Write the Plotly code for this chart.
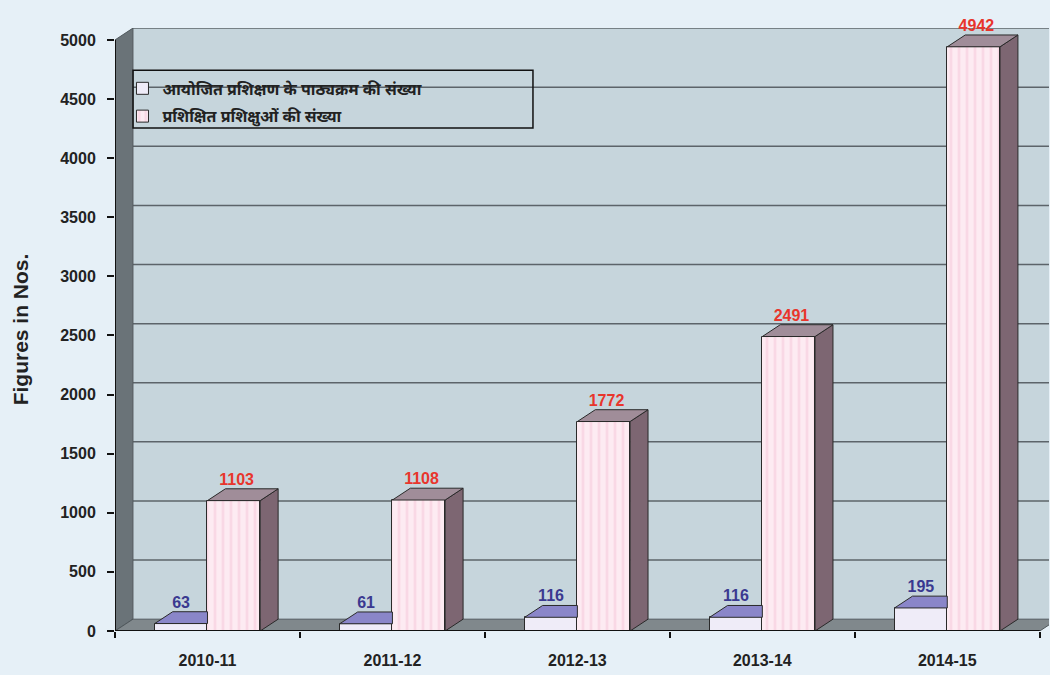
import plotly.graph_objects as go

years = ["2010-11", "2011-12", "2012-13", "2013-14", "2014-15"]
courses = [63, 61, 116, 116, 195]
trainees = [1103, 1108, 1772, 2491, 4942]
legend_names = ["आयोजित प्रशिक्षण के पाठ्यक्रम की संख्या", "प्रशिक्षित प्रशिक्षुओं की संख्या"]
yticks = list(range(0, 5001, 500))
y_title = "Figures in Nos."

# 3D look parameters (depth offset in data units)
DX = 0.097
DY = 100
BW = 0.285
YMAX = 5000
XMIN, XMAX = -0.5, len(years) - 0.5

FONT = "Arial, Liberation Sans, sans-serif"
WALL = "#C6D5DC"
LEFTWALL = "#6A7378"
FLOOR = "#80888C"
GRID = "#5C646A"
PAPER = "#E6F0F7"
OUT = "#2A2A2A"

xs = list(range(len(years)))

fig = go.Figure()

# front faces
fig.add_bar(x=xs, y=courses, offset=-BW, width=BW, name=legend_names[0],
            legendgroup="a",
            marker=dict(color="#EFECF8", line=dict(color=OUT, width=1)),
            hoverinfo="skip")
fig.add_bar(x=xs, y=trainees, offset=0, width=BW, name=legend_names[1],
            legendgroup="b",
            marker=dict(color="#FDE8EF", line=dict(color=OUT, width=1),
                        pattern=dict(shape="|", fgcolor="#F6C6D7", bgcolor="#FDEBF2",
                                     size=8, solidity=0.35)),
            hoverinfo="skip")


def poly_trace(pts_list, color):
    px, py = [], []
    for pts in pts_list:
        for (a, b) in pts:
            px.append(a)
            py.append(b)
        px.append(pts[0][0])
        py.append(pts[0][1])
        px.append(None)
        py.append(None)
    return go.Scatter(x=px, y=py, mode="lines", fill="toself", fillcolor=color,
                      line=dict(color=OUT, width=1), showlegend=False, hoverinfo="skip")


# blue top faces (clipped where hidden behind pink bar)
blue_tops = [[(i - BW, v), (i, v), (i, v + DY), (i - BW + DX, v + DY)]
             for i, v in zip(xs, courses)]
pink_tops = [[(i, v), (i + BW, v), (i + BW + DX, v + DY), (i + DX, v + DY)]
             for i, v in zip(xs, trainees)]
pink_sides = [[(i + BW, 0), (i + BW, v), (i + BW + DX, v + DY), (i + BW + DX, DY)]
              for i, v in zip(xs, trainees)]
fig.add_trace(poly_trace(blue_tops, "#8A86C9"))
fig.add_trace(poly_trace(pink_sides, "#7D6672"))
fig.add_trace(poly_trace(pink_tops, "#A08D99"))

# value labels
fig.add_trace(go.Scatter(x=[i - BW / 2 for i in xs], y=[v + DY for v in courses],
                         mode="text", text=[str(v) for v in courses], textposition="top center",
                         textfont=dict(family=FONT, size=16, color="#3A3990", weight="bold"),
                         cliponaxis=False, showlegend=False, hoverinfo="skip"))
fig.add_trace(go.Scatter(x=[i + BW / 2 + 0.015 for i in xs], y=[v + DY for v in trainees],
                         mode="text", text=[str(v) for v in trainees], textposition="top center",
                         textfont=dict(family=FONT, size=16, color="#E8352C", weight="bold"),
                         cliponaxis=False, showlegend=False, hoverinfo="skip"))

shapes = []
# back wall
shapes.append(dict(type="rect", xref="x", yref="y", x0=XMIN + DX, x1=XMAX + 0.2, y0=DY, y1=YMAX + DY + 10,
                   fillcolor=WALL, line=dict(width=0), layer="below"))
# grid lines on back wall
for v in yticks[1:]:
    shapes.append(dict(type="line", xref="x", yref="y", x0=XMIN + DX, x1=XMAX + 0.2,
                       y0=v + DY, y1=v + DY, line=dict(color=GRID, width=1.5), layer="below"))
# left wall
shapes.append(dict(type="path", xref="x", yref="y",
                   path=f"M {XMIN} 0 L {XMIN} {YMAX} L {XMIN + DX} {YMAX + DY} L {XMIN + DX} {DY} Z",
                   fillcolor=LEFTWALL, line=dict(color="#50585C", width=1), layer="below"))
# floor
shapes.append(dict(type="path", xref="x", yref="y",
                   path=f"M {XMIN} 0 L {XMAX} 0 L {XMAX + DX} {DY} L {XMIN + DX} {DY} Z",
                   fillcolor=FLOOR, line=dict(color="#50585C", width=1), layer="below"))
# axis lines
shapes.append(dict(type="line", xref="x", yref="y", x0=XMIN, x1=XMIN, y0=0, y1=YMAX,
                   line=dict(color="#111111", width=2)))
shapes.append(dict(type="line", xref="x", yref="y", x0=XMIN, x1=XMAX, y0=0, y1=0,
                   line=dict(color="#111111", width=2)))
# legend box
shapes.append(dict(type="rect", xref="paper", yref="paper", x0=0.0193, x1=0.4475, y0=0.834, y1=0.930,
                   fillcolor="rgba(0,0,0,0)", line=dict(color="#111111", width=1.5)))

fig.update_layout(
    width=1050, height=675,
    margin=dict(l=115, r=1, t=28, b=44),
    paper_bgcolor=PAPER,
    plot_bgcolor="rgba(0,0,0,0)",
    barmode="overlay",
    bargap=0,
    shapes=shapes,
    font=dict(family=FONT, color="#222222"),
    showlegend=True,
    legend=dict(x=0.008, y=0.928, xanchor="left", yanchor="top", bgcolor="rgba(0,0,0,0)",
                borderwidth=0,
                font=dict(size=16, color="#222222", family="Noto Sans, " + FONT, weight="bold"),
                tracegroupgap=4, itemwidth=30),
    xaxis=dict(range=[XMIN, XMAX + 0.05], tickvals=xs, ticktext=years, ticks="",
               showgrid=False, zeroline=False, showline=False,
               tickfont=dict(family=FONT, size=16, color="#222222", weight="bold"),
               ticklabelstandoff=18,
               minor=dict(tick0=-0.5, dtick=1, ticks="outside", ticklen=6, tickcolor="#111111",
                          tickwidth=2, showgrid=False)),
    yaxis=dict(range=[0, YMAX + DY + 1], tickvals=yticks, ticks="outside", ticklen=7,
               tickcolor="#111111", tickwidth=2, showgrid=False, zeroline=False, showline=False,
               tickfont=dict(family=FONT, size=16, color="#222222", weight="bold"),
               ticklabelstandoff=8,
               title=dict(text=y_title, font=dict(family=FONT, size=21, color="#222222", weight="bold"),
                          standoff=25)),
)

fig.write_html("out.html", config={"displayModeBar": False},
               post_script="document.body.style.margin='0px';")
